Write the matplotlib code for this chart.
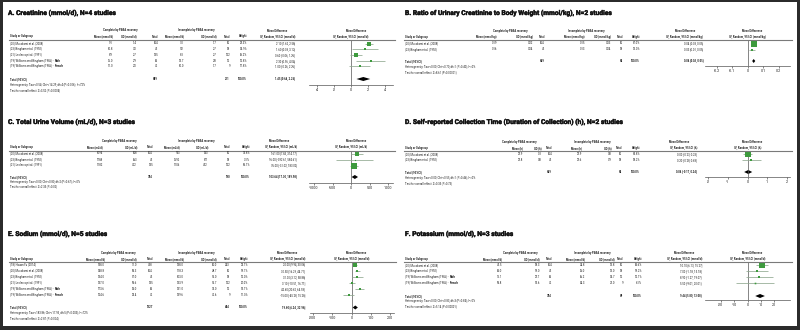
import matplotlib
matplotlib.use("Agg")
import matplotlib.pyplot as plt
import matplotlib.patheffects as pe
from matplotlib.patches import Rectangle
from matplotlib.lines import Line2D

plt.rcParams['font.family'] = ['Roboto', 'DejaVu Sans']

W, H = 800, 330

# ---------------- data ----------------
MUR = "(20) Murakami et al. (2008)"
BIN = "(23) Bingham et al. (1992)"
LEC = "(21) Leclercq et al. (1991)"
WIL = "(19) Williams and Bingham (1986) -"
HSU = "(18) Hsuan Fu (2014)"

# A. Creatinine
a_title = "A. Creatinine (mmol/d), N=4 studies"
a_unit = "mmol/d"
a_studies = [MUR, BIN, LEC, WIL, WIL]
a_tags = ["", "", "", "Male", "Female"]
a_mean_c = [9.1, 10.8, 8.9, 16.0, 11.0]
a_sd_c = [1.4, 3.0, 2.7, 2.9, 2.0]
a_n_c = [604, 45, 135, 63, 42]
a_mean_i = [7.0, 9.2, 8.3, 13.7, 10.0]
a_sd_i = [1.7, 2.7, 2.7, 2.8, 1.7]
a_n_i = [50, 18, 122, 12, 9]
a_weight = [28.3, 14.9, 26.2, 12.8, 17.8]
a_md = [2.10, 1.60, 0.60, 2.30, 1.00]
a_lo = [1.62, 0.08, -0.06, 0.56, -0.26]
a_hi = [2.58, 3.12, 1.26, 4.04, 2.26]
a_total = [889, 211, 1.45, 0.64, 2.26]
a_het = "Heterogeneity: Tau²=0.54; Chi²=14.29, df=4 (P=0.006); I²=72%"
a_test = "Test for overall effect: Z=3.52 (P=0.0004)"
a_ticks = [-4, -2, 0, 2, 4]
a_ticklabels = ["-4", "-2", "0", "2", "4"]

# B. Ratio creatinine / body weight
b_title = "B. Ratio of Urinary Creatinine to Body Weight (mmol/kg), N=2 studies"
b_unit = "mmol/kg"
b_studies = [MUR, BIN]
b_tags = ["", ""]
b_mean_c = [0.19, 0.16]
b_sd_c = [0.02, 0.04]
b_n_c = [604, 45]
b_mean_i = [0.15, 0.13]
b_sd_i = [0.03, 0.04]
b_n_i = [50, 18]
b_weight = [87.0, 13.0]
b_md = [0.04, 0.03]
b_lo = [0.03, 0.01]
b_hi = [0.05, 0.05]
b_total = [649, 68, 0.04, 0.03, 0.05]
b_het = "Heterogeneity: Tau²=0.00; Chi²=0.70, df=1 (P=0.40); I²=0%"
b_test = "Test for overall effect: Z=8.61 (P<0.00001)"
b_ticks = [-0.2, -0.1, 0, 0.1, 0.2]
b_ticklabels = ["-0.2", "-0.1", "0", "0.1", "0.2"]

# C. Total urine volume
c_title = "C. Total Urine Volume (mL/d), N=3 studies"
c_unit = "mL/d"
c_studies = [MUR, BIN, LEC]
c_tags = ["", "", ""]
c_mean_c = [1094, 1788, 1182]
c_sd_c = [508, 663, 422]
c_n_c = [604, 45, 135]
c_mean_i = [933, 1692, 1106]
c_sd_i = [533, 871, 452]
c_n_i = [50, 18, 122]
c_weight = [31.8, 3.1, 65.1]
c_md = [161.00, 96.00, 76.00]
c_lo = [7.83, -392.61, -31.02]
c_hi = [314.17, 584.61, 183.02]
c_total = [784, 190, 103.64, 17.30, 189.98]
c_het = "Heterogeneity: Tau²=0.00; Chi²=0.80, df=2 (P=0.67); I²=0%"
c_test = "Test for overall effect: Z=2.35 (P=0.02)"
c_ticks = [-1000, -500, 0, 500, 1000]
c_ticklabels = ["-1000", "-500", "0", "500", "1000"]

# D. Collection time
d_title = "D. Self-reported Collection Time (Duration of Collection) (h), N=2 studies"
d_unit = "h"
d_studies = [MUR, BIN]
d_tags = ["", ""]
d_mean_c = [23.9, 23.8]
d_sd_c = [0.3, 0.8]
d_n_c = [604, 45]
d_mean_i = [23.9, 23.6]
d_sd_i = [0.8, 0.9]
d_n_i = [50, 18]
d_weight = [81.8, 18.2]
d_md = [0.00, 0.20]
d_lo = [-0.23, -0.28]
d_hi = [0.23, 0.68]
d_total = [649, 68, 0.04, -0.17, 0.24]
d_het = "Heterogeneity: Tau²=0.00; Chi²=0.55, df=1 (P=0.46); I²=0%"
d_test = "Test for overall effect: Z=0.35 (P=0.73)"
d_ticks = [-2, -1, 0, 1, 2]
d_ticklabels = ["-2", "-1", "0", "1", "2"]

# E. Sodium
e_title = "E. Sodium (mmol/d), N=5 studies"
e_unit = "mmol/d"
e_studies = [HSU, MUR, BIN, LEC, WIL, WIL]
e_tags = ["", "", "", "", "Male", "Female"]
e_mean_c = [158.0, 148.8, 134.0, 137.0, 173.6, 124.6]
e_sd_c = [71.0, 55.3, 57.0, 59.6, 52.0, 38.4]
e_n_c = [438, 604, 45, 135, 63, 42]
e_mean_i = [138.0, 118.3, 103.0, 133.9, 131.0, 139.6]
e_sd_i = [60.0, 48.7, 51.0, 51.7, 31.0, 42.6]
e_n_i = [243, 50, 18, 122, 12, 9]
e_weight = [22.1, 19.7, 12.0, 20.0, 15.1, 11.0]
e_md = [20.00, 30.50, 31.00, 3.10, 42.60, -15.00]
e_lo = [9.94, 16.29, 3.12, -10.51, 20.62, -45.28]
e_hi = [30.06, 44.71, 58.88, 16.71, 64.58, 15.28]
e_total = [1327, 454, 19.60, 6.24, 32.96]
e_het = "Heterogeneity: Tau²=183.86; Chi²=17.93, df=5 (P=0.003); I²=72%"
e_test = "Test for overall effect: Z=2.87 (P=0.004)"
e_ticks = [-200, -100, 0, 100, 200]
e_ticklabels = ["-200", "-100", "0", "100", "200"]

# F. Potassium
f_title = "F. Potassium (mmol/d), N=3 studies"
f_unit = "mmol/d"
f_studies = [MUR, BIN, WIL, WIL]
f_tags = ["", "", "Male", "Female"]
f_mean_c = [45.5, 63.0, 75.1, 59.8]
f_sd_c = [18.3, 19.0, 23.7, 15.6]
f_n_c = [604, 45, 63, 42]
f_mean_i = [34.8, 56.0, 66.2, 54.3]
f_sd_i = [13.8, 13.0, 14.7, 21.0]
f_n_i = [50, 18, 12, 9]
f_weight = [62.6, 19.2, 12.1, 6.1]
f_md = [10.70, 7.00, 8.90, 5.50]
f_lo = [6.13, -1.18, -1.27, -9.01]
f_hi = [15.27, 15.18, 19.07, 20.01]
f_total = [754, 89, 9.44, 5.80, 13.08]
f_het = "Heterogeneity: Tau²=0.00; Chi²=0.83, df=3 (P=0.84); I²=0%"
f_test = "Test for overall effect: Z=5.14 (P<0.00001)"
f_ticks = [-20, -10, 0, 10, 20]
f_ticklabels = ["-20", "-10", "0", "10", "20"]

# ---------------- layout / style ----------------
TXT = '#1e1e1e'
FS = 2.0
FS_TITLE = 4.8
FS_TICK = 2.6
GREEN = '#3d9a3d'
CI_COL = '#8fa88f'
LINE_COL = '#7a7a7a'
TITLE_FX = [pe.withStroke(linewidth=0.3, foreground='#111111')]

fig = plt.figure(figsize=(W / 100, H / 100), dpi=100)
fig.patch.set_facecolor('white')
renderer = fig.canvas.get_renderer()


def T(x, y, s, **kw):
    kw.setdefault('fontsize', FS)
    kw.setdefault('color', TXT)
    return fig.text(x / W, 1 - y / H, s, va='center', **kw)


def panel(x0, L, title, unit, studies, tags, mean_c, sd_c, n_c, mean_i, sd_i,
          n_i, weight, md, lo, hi, total, het, test, ticks, ticklabels, fmt):
    cols = L['cols']
    T(x0 + L['tx'], L['title_y'], title, fontsize=FS_TITLE, fontweight='bold',
      color='#111111', path_effects=TITLE_FX)
    # group headers
    T(x0 + L['g1'], L['grp_y'], "Complete by PABA recovery", ha='center', fontweight='bold')
    T(x0 + L['g2'], L['grp_y'], "Incomplete by PABA recovery", ha='center', fontweight='bold')
    T(x0 + cols[7] - 18, L['grp_y'], "Mean Difference", ha='center', fontweight='bold')
    T(x0 + L['pc'] + 5, L['grp_y'], "Mean Difference", ha='center', fontweight='bold')
    # column headers
    hy = L['hdr_y']
    T(x0 + L['sx'], hy, "Study or Subgroup", fontweight='bold')
    hdrs = [f"Mean ({unit})", f"SD ({unit})", "Total", f"Mean ({unit})",
            f"SD ({unit})", "Total", "Weight", f"IV, Random, 95%CI ({unit})"]
    for cx, h in zip(cols, hdrs):
        T(x0 + cx, hy, h, ha='right', fontweight='bold')
    T(x0 + L['pc'], hy, f"IV, Random, 95%CI ({unit})", ha='center', fontweight='bold')
    # header rule
    fig.add_artist(Line2D([(x0 + L['sx'] - 1) / W, (x0 + L['pc'] + L['hw'] + 2) / W],
                          [1 - L['line_y'] / H] * 2, color=LINE_COL, lw=0.8,
                          transform=fig.transFigure))
    # rows
    ys = [L['row_y0'] + i * L['dy'] for i in range(len(studies))]
    for i, y in enumerate(ys):
        t = T(x0 + L['sx'], y, studies[i])
        if tags[i]:
            bb = t.get_window_extent(renderer=renderer)
            T(bb.x1 + 1.0, y, tags[i], fontweight='bold')
        vals = [fmt.format(mean_c[i]), fmt.format(sd_c[i]), str(n_c[i]),
                fmt.format(mean_i[i]), fmt.format(sd_i[i]), str(n_i[i]),
                f"{weight[i]:.1f}%", f"{md[i]:.2f} [{lo[i]:.2f}, {hi[i]:.2f}]"]
        for cx, v in zip(cols, vals):
            T(x0 + cx, y, v, ha='right')
    ty = L['total_y']
    T(x0 + L['sx'], ty, "Total (95%CI)", fontweight='bold')
    T(x0 + cols[2], ty, str(total[0]), ha='right', fontweight='bold')
    T(x0 + cols[5], ty, str(total[1]), ha='right', fontweight='bold')
    T(x0 + cols[6], ty, "100.0%", ha='right', fontweight='bold')
    T(x0 + cols[7], ty, f"{total[2]:.2f} [{total[3]:.2f}, {total[4]:.2f}]",
      ha='right', fontweight='bold')
    T(x0 + L['sx'], L['het_y'], het)
    T(x0 + L['sx'], L['test_y'], test)

    # forest plot axes, y measured in pixel rows
    left = x0 + L['pc'] - L['hw']
    ax = fig.add_axes([left / W, 1 - L['axis_y'] / H, 2 * L['hw'] / W,
                       (L['axis_y'] - L['line_y']) / H])
    ax.set_facecolor('none')
    half = L['hw'] / L['scale']
    ax.set_xlim(-half, half)
    ax.set_ylim(L['axis_y'], L['line_y'])
    for s in ['top', 'left', 'right']:
        ax.spines[s].set_visible(False)
    ax.spines['bottom'].set_color('#555555')
    ax.spines['bottom'].set_linewidth(0.5)
    ax.set_yticks([])
    ax.set_xticks(ticks)
    ax.set_xticklabels(ticklabels)
    ax.tick_params(axis='x', length=1.5, width=0.5, color='#555555',
                   labelsize=FS_TICK, pad=0.6, labelcolor=TXT)
    ax.axvline(0, color='#555555', lw=0.5)
    for i, y in enumerate(ys):
        ax.plot([lo[i], hi[i]], [y, y], color=CI_COL, lw=0.55, solid_capstyle='butt')
        side_px = 6.5 * (weight[i] / 100.0) ** 0.5
        ax.plot([md[i]], [y], marker='s', ms=side_px * 0.72, color=GREEN,
                markeredgewidth=0, linestyle='none')
    dh = 2.0
    ax.fill([total[3], total[2], total[4], total[2]],
            [ty, ty - dh, ty, ty + dh], color='black', lw=0)
    return ax


LEFT_BASE = dict(tx=8, sx=10, hw=42)
RIGHT_BASE = dict(tx=5, sx=5, hw=42.5)

LA = dict(LEFT_BASE, title_y=13, grp_y=30.5, hdr_y=36.5, line_y=40, row_y0=43.5, dy=5.7,
          total_y=79, het_y=85, test_y=90, axis_y=85, g1=120, g2=196, pc=351, scale=8.5,
          cols=[113, 137, 158, 184, 217, 230, 247, 295])
LB = dict(RIGHT_BASE, title_y=13, grp_y=31, hdr_y=37, line_y=40, row_y0=43.5, dy=6,
          total_y=61, het_y=67, test_y=72, axis_y=66, g1=110, g2=186, pc=347.5, scale=155,
          cols=[97, 133, 145, 185, 211, 223, 240, 303])
LC = dict(LEFT_BASE, title_y=122, grp_y=141, hdr_y=147, line_y=150.5, row_y0=153.5, dy=6,
          total_y=177, het_y=181.5, test_y=186.5, axis_y=183, g1=119, g2=196, pc=351, scale=0.037,
          cols=[103, 137, 153, 180, 208, 230, 250, 297])
LD = dict(RIGHT_BASE, title_y=122, grp_y=142, hdr_y=148, line_y=150.5, row_y0=154, dy=6,
          total_y=172, het_y=178, test_y=183, axis_y=177, g1=119, g2=192, pc=347.5, scale=19.7,
          cols=[123, 142, 152, 182, 212, 222, 240, 297])
LE = dict(LEFT_BASE, title_y=234, grp_y=253, hdr_y=259, line_y=261.5, row_y0=264.5, dy=6.1,
          total_y=307.5, het_y=313, test_y=318, axis_y=313, g1=118, g2=196, pc=351.5, scale=0.193,
          cols=[105, 137, 153, 184, 217, 230, 248, 305])
LF = dict(RIGHT_BASE, title_y=234, grp_y=253, hdr_y=259, line_y=262, row_y0=265, dy=6,
          total_y=296, het_y=301, test_y=306, axis_y=300, g1=120, g2=192, pc=347.5, scale=1.33,
          cols=[102, 140, 152, 185, 215, 223, 242, 302])

panel(0, LA, a_title, a_unit, a_studies, a_tags, a_mean_c, a_sd_c, a_n_c, a_mean_i,
      a_sd_i, a_n_i, a_weight, a_md, a_lo, a_hi, a_total, a_het, a_test,
      a_ticks, a_ticklabels, "{:.1f}")
panel(400, LB, b_title, b_unit, b_studies, b_tags, b_mean_c, b_sd_c, b_n_c, b_mean_i,
      b_sd_i, b_n_i, b_weight, b_md, b_lo, b_hi, b_total, b_het, b_test,
      b_ticks, b_ticklabels, "{:.2f}")
panel(0, LC, c_title, c_unit, c_studies, c_tags, c_mean_c, c_sd_c, c_n_c, c_mean_i,
      c_sd_i, c_n_i, c_weight, c_md, c_lo, c_hi, c_total, c_het, c_test,
      c_ticks, c_ticklabels, "{:.0f}")
panel(400, LD, d_title, d_unit, d_studies, d_tags, d_mean_c, d_sd_c, d_n_c, d_mean_i,
      d_sd_i, d_n_i, d_weight, d_md, d_lo, d_hi, d_total, d_het, d_test,
      d_ticks, d_ticklabels, "{:.1f}")
panel(0, LE, e_title, e_unit, e_studies, e_tags, e_mean_c, e_sd_c, e_n_c, e_mean_i,
      e_sd_i, e_n_i, e_weight, e_md, e_lo, e_hi, e_total, e_het, e_test,
      e_ticks, e_ticklabels, "{:.1f}")
panel(400, LF, f_title, f_unit, f_studies, f_tags, f_mean_c, f_sd_c, f_n_c, f_mean_i,
      f_sd_i, f_n_i, f_weight, f_md, f_lo, f_hi, f_total, f_het, f_test,
      f_ticks, f_ticklabels, "{:.1f}")

# dark frame around the screenshot
FRAME = '#2b2b2b'
for (x, y, w, h) in [(0, 0, 800, 2), (0, 0, 2.5, 330), (796.5, 0, 3.5, 330), (0, 326, 800, 4)]:
    fig.add_artist(Rectangle((x / W, 1 - (y + h) / H), w / W, h / H, color=FRAME,
                             lw=0, transform=fig.transFigure))

fig.savefig("out.png", dpi=100)
